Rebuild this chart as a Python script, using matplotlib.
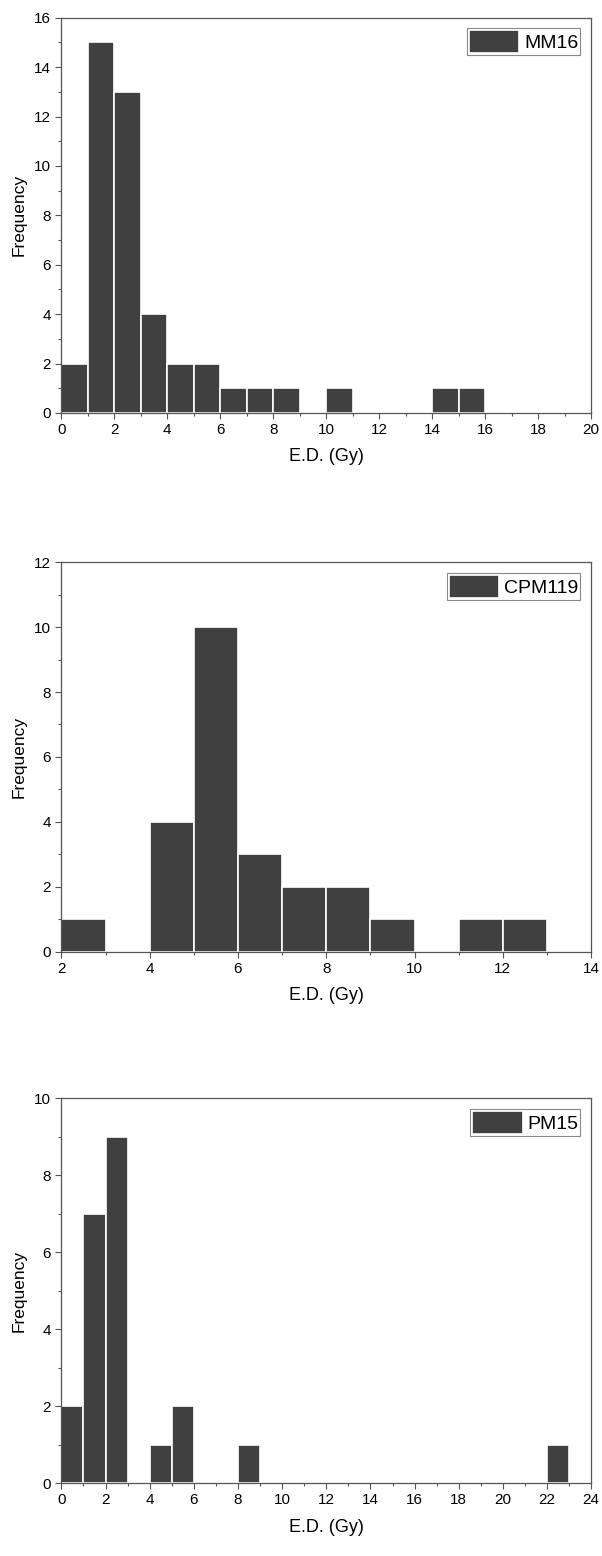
import matplotlib
matplotlib.use("Agg")
import matplotlib.pyplot as plt
from matplotlib.ticker import MultipleLocator
import numpy as np

plt.rcParams['font.family'] = ['Liberation Sans', 'DejaVu Sans']

# histogram counts, bins of 1 Gy
mm16_edges = np.arange(0, 21, 1)
mm16_counts = [2, 15, 13, 4, 2, 2, 1, 1, 1, 0, 1, 0, 0, 0, 1, 1, 0, 0, 0, 0]

cpm119_edges = np.arange(2, 15, 1)
cpm119_counts = [1, 0, 4, 10, 3, 2, 2, 1, 0, 1, 1, 0]

pm15_edges = np.arange(0, 25, 1)
pm15_counts = [2, 7, 9, 0, 1, 2, 0, 0, 1, 0, 0, 0, 0, 0, 0, 0, 0, 0, 0, 0, 0, 0, 1, 0]

panels = [
    ("MM16", mm16_edges, mm16_counts, (0, 20), (0, 16), [0.102, 0.7346, 0.880, 0.254]),
    ("CPM119", cpm119_edges, cpm119_counts, (2, 14), (0, 12), [0.102, 0.3882, 0.880, 0.2506]),
    ("PM15", pm15_edges, pm15_counts, (0, 24), (0, 10), [0.102, 0.0469, 0.880, 0.2474]),
]

fig = plt.figure(figsize=(6.02, 15.56), dpi=100)
frame_col = '#555555'

for name, edges, counts, xl, yl, rect in panels:
    ax = fig.add_axes(rect)
    left = edges[:-1]
    ax.bar(left, counts, width=1, align='edge', color='#404040',
           edgecolor='white', linewidth=1.2, label=name)
    ax.set_xlim(xl)
    ax.set_ylim(yl)
    ax.xaxis.set_major_locator(MultipleLocator(2))
    ax.xaxis.set_minor_locator(MultipleLocator(1))
    ax.yaxis.set_major_locator(MultipleLocator(2))
    ax.yaxis.set_minor_locator(MultipleLocator(1))
    ax.tick_params(which='major', direction='out', length=4, width=0.8,
                   color=frame_col, labelsize=11, pad=3.5)
    ax.tick_params(which='minor', direction='out', length=2.5, width=0.8,
                   color=frame_col)
    for s in ax.spines.values():
        s.set_color(frame_col)
        s.set_linewidth(0.9)
    ax.set_xlabel('E.D. (Gy)', fontsize=13, labelpad=8)
    ax.set_ylabel('Frequency', fontsize=12.5, labelpad=5)
    leg = ax.legend(loc='upper right', fontsize=14, fancybox=False,
                    handlelength=2.6, handleheight=1.45, handletextpad=0.25,
                    borderpad=0.1, borderaxespad=0.55, framealpha=1)
    leg.get_frame().set_edgecolor('#888888')
    leg.get_frame().set_linewidth(0.8)

fig.savefig('out.png', dpi=100)
